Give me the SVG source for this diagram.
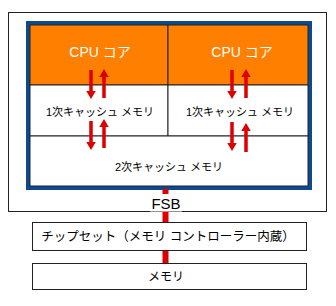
<svg xmlns="http://www.w3.org/2000/svg" width="336" height="306" viewBox="0 0 336 306">
<style>
.t{font-family:"Liberation Sans","Noto Sans CJK JP",sans-serif;text-anchor:middle;fill:#000}
.box{fill:#fff;stroke:#222;stroke-width:1}
.arr{fill:#dd0000}
</style>
<defs>
<path id="down" d="M-1.75,0 h3.5 v21 h3 l-4.75,8 l-4.75,-8 h3 z"/>
<path id="up" d="M-1.75,29 h3.5 v-21 h3 l-4.75,-8 l-4.75,8 h3 z"/>
</defs>
<rect width="336" height="306" fill="#fff"/>
<g id="outer"><rect class="box" x="8.5" y="12.5" width="318" height="199"/></g>
<g id="cpu-package">
<rect x="28" y="23" width="282" height="165" fill="#fff" stroke="#0c4a8f" stroke-width="4"/>
</g>
<g id="cpu1"><rect x="30" y="25" width="138" height="60" fill="#ff8000" stroke="#222" stroke-width="1"/><text class="t" x="100" y="57" font-size="14" style="fill:#fff">CPU コア</text></g>
<g id="cpu2"><rect x="168" y="25" width="140" height="60" fill="#ff8000" stroke="#222" stroke-width="1"/><text class="t" x="242" y="57" font-size="14" style="fill:#fff">CPU コア</text></g>
<g id="l1a"><rect x="30" y="85" width="138" height="51" fill="#fff" stroke="#222" stroke-width="1"/><text class="t" x="100" y="116" font-size="11">1次キャッシュ メモリ</text></g>
<g id="l1b"><rect x="168" y="85" width="140" height="51" fill="#fff" stroke="#222" stroke-width="1"/><text class="t" x="240" y="116" font-size="11">1次キャッシュ メモリ</text></g>
<g id="l2"><rect x="30" y="136" width="278" height="50" fill="#fff" stroke="#222" stroke-width="1"/><text class="t" x="169" y="171" font-size="11">2次キャッシュ メモリ</text></g>
<g id="connectors">
<use href="#down" class="arr" x="91" y="70"/>
<use href="#up" class="arr" x="104" y="69"/>
<use href="#down" class="arr" x="232" y="70"/>
<use href="#up" class="arr" x="246" y="69"/>
<use href="#down" class="arr" x="91" y="121"/>
<use href="#up" class="arr" x="104" y="119"/>
<use href="#down" class="arr" x="232" y="122"/>
<use href="#up" class="arr" x="246" y="123"/>
<rect class="arr" x="162.5" y="189" width="6" height="74"/>
</g>
<g id="fsb"><rect x="150" y="194" width="32" height="17.5" fill="#fff"/><text class="t" x="166" y="209" font-size="15">FSB</text></g>
<g id="chipset"><rect class="box" x="32.5" y="222.5" width="274" height="28"/><text class="t" x="168" y="241" font-size="12.5">チップセット（メモリ コントローラー内蔵）</text></g>
<g id="memory"><rect class="box" x="32.5" y="263.5" width="274" height="26"/><text class="t" x="166" y="281" font-size="12">メモリ</text></g>
</svg>
